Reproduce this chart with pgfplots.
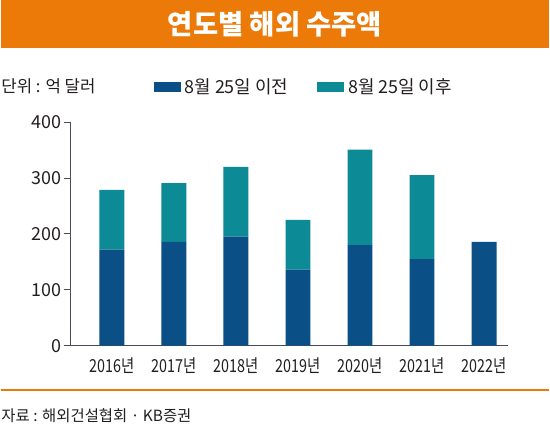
\documentclass[border=0pt]{standalone}
\usepackage{fontspec}
\setmainfont{Noto Sans CJK KR}
\usepackage{pgfplots}
\pgfplotsset{compat=1.18}
\definecolor{orangeC}{HTML}{EC7A08}
\definecolor{blueC}{HTML}{0B4F87}
\definecolor{tealC}{HTML}{0C8A95}
\definecolor{txtC}{HTML}{231F20}
\definecolor{axC}{HTML}{4A4A5A}
\begin{document}
\begin{tikzpicture}[x=1pt,y=1pt]
\fill[white] (0pt,0pt) rectangle (550pt,430pt);
\fill[orangeC] (0pt,382pt) rectangle (550pt,430pt);
\node[white,font=\fontsize{27.5}{27.5}\selectfont\bfseries] at (275pt,406pt) {연도별 해외 수주액};
\node[anchor=west,inner sep=0,text=txtC,font=\fontsize{16.8}{16.8}\selectfont] at (0pt,343pt) {단위 : 억 달러};
\draw[orangeC,line width=2.5pt] (0pt,38pt) -- (550pt,38pt);
\node[anchor=west,inner sep=0,text=txtC,font=\fontsize{15.5}{15.5}\selectfont] at (0pt,12pt) {자료 : 해외건설협회 · KB증권};
\begin{axis}[
  at={(70pt,82.7pt)}, anchor=south west,
  scale only axis, width=439pt, height=224.6pt,
  xmin=-0.66, xmax=6.385, ymin=0, ymax=400,
  axis lines=left,
  axis line style={-, draw=axC, line width=1pt},
  ybar stacked, bar width=25pt,
  ytick={0,100,200,300,400},
  xtick={0,1,2,3,4,5,6},
  xticklabels={{\scalebox{0.8}[1]{2016년}},{\scalebox{0.8}[1]{2017년}},{\scalebox{0.8}[1]{2018년}},{\scalebox{0.8}[1]{2019년}},{\scalebox{0.8}[1]{2020년}},{\scalebox{0.8}[1]{2021년}},{\scalebox{0.8}[1]{2022년}}},
  tick align=outside,
  major tick length=7pt,
  ytick style={draw=axC, line width=1pt},
  xtick style={draw=none},
  /pgf/number format/assume math mode=true,
  tick label style={text=txtC, font=\fontsize{18}{18}\selectfont},
  yticklabel style={xshift=1pt},
  xticklabel style={yshift=-2pt},
  legend columns=2,
  legend style={at={(0.189,1.159)}, anchor=west, draw=none, fill=none,
    inner sep=0pt, nodes={inner sep=0pt},
    font=\fontsize{18}{18}\selectfont, text=txtC,
    /tikz/every odd column/.append style={column sep=4pt},
    /tikz/every even column/.append style={column sep=29pt}},
  legend image code/.code={\fill (0pt,-5pt) rectangle (27pt,5pt);},
]
\addplot[fill=blueC, draw=none] coordinates {(0,172) (1,186) (2,195) (3,136) (4,180) (5,155) (6,186)};
\addlegendentry{8월 25일 이전}
\addplot[fill=tealC, draw=none] coordinates {(0,107) (1,105) (2,125) (3,89) (4,171) (5,150) (6,0)};
\addlegendentry{8월 25일 이후}
\end{axis}
\end{tikzpicture}
\end{document}
